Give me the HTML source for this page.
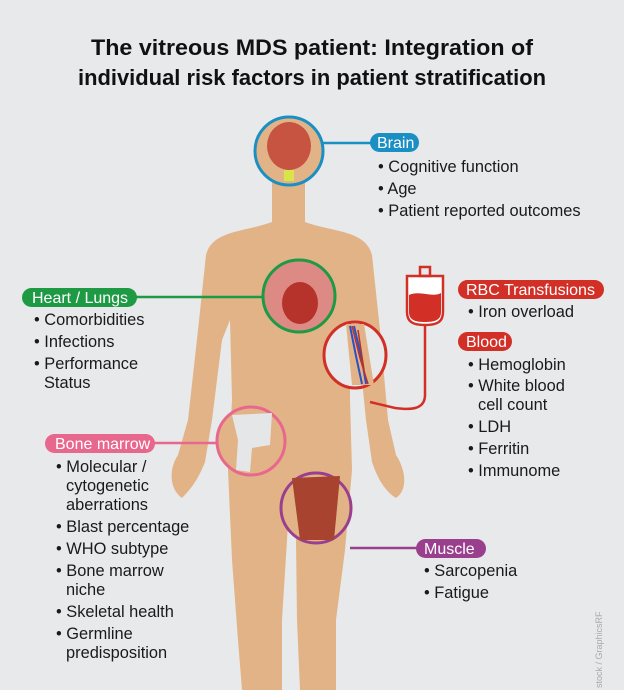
<!DOCTYPE html>
<html><head><meta charset="utf-8"><style>
html,body{margin:0;padding:0;background:#e8e9eb}
svg{display:block}
text{font-family:"Liberation Sans",Arial,sans-serif}
.t{font-size:16.4px;fill:#1a1a1a}
.p{font-size:16px;fill:#fff}
</style></head><body>
<svg width="624" height="690" viewBox="0 0 624 690">
<rect width="624" height="690" fill="#e8e9eb"/>
<text x="312" y="55" text-anchor="middle" font-size="22" font-weight="bold" textLength="442" lengthAdjust="spacingAndGlyphs" fill="#111">The vitreous MDS patient: Integration of</text>
<text x="312" y="85" text-anchor="middle" font-size="22" font-weight="bold" textLength="468" lengthAdjust="spacingAndGlyphs" fill="#111">individual risk factors in patient stratification</text>

<!-- body -->
<g fill="#e2b386">
<ellipse cx="288" cy="152" rx="26" ry="34"/>
<rect x="272" y="175" width="33" height="60"/>
<path d="M272 222 C245 232 212 230 206 255 L198 330 L188 420 L178 455 C168 470 170 490 182 498 C190 490 198 480 205 462 L212 420 L222 340 L230 320 L232 400 L228 470 L232 560 L238 640 L242 690 L282 690 L282 620 L287 540 L290 490 L296 540 L297 620 L300 690 L336 690 L336 620 L345 550 L352 470 L350 400 L350 320 L358 340 L366 420 L372 462 C378 480 386 492 396 498 C408 490 406 470 396 455 L388 420 L380 330 L372 255 C366 230 332 232 305 222 Z"/>
</g>

<!-- brain -->
<circle cx="289" cy="151" r="34" fill="#e2b386" stroke="#1a8fc4" stroke-width="3"/>
<ellipse cx="289" cy="146" rx="22" ry="24" fill="#c65440"/>
<rect x="284" y="170" width="10" height="11" fill="#d9e34a"/>
<line x1="323" y1="143" x2="372" y2="143" stroke="#1a8fc4" stroke-width="2.5"/>
<rect x="370" y="133" width="49" height="19" rx="9.5" fill="#1a8fc4"/>
<text class="p" x="377" y="148">Brain</text>
<text class="t" x="378" y="172">• Cognitive function</text>
<text class="t" x="378" y="194">• Age</text>
<text class="t" x="378" y="216">• Patient reported outcomes</text>

<!-- heart -->
<circle cx="299" cy="296" r="36" fill="#dd8a84" stroke="#1e9a45" stroke-width="3"/>
<ellipse cx="300" cy="303" rx="18" ry="21" fill="#b5332a"/>
<line x1="135" y1="297" x2="263" y2="297" stroke="#1e9a45" stroke-width="2.5"/>
<rect x="22" y="288" width="115" height="19" rx="9.5" fill="#1e9a45"/>
<text class="p" x="32" y="303">Heart / Lungs</text>
<text class="t" x="34" y="325">• Comorbidities</text>
<text class="t" x="34" y="347">• Infections</text>
<text class="t" x="34" y="369">• Performance</text>
<text class="t" x="44" y="388">Status</text>

<!-- blood / arm -->
<path d="M425 322 L425 395 C425 410 410 410 395 408 L370 402" fill="none" stroke="#d22f27" stroke-width="2.5"/>
<path d="M407 276 L443 276 L443 312 C443 322 437 325 425 325 C413 325 407 322 407 312 Z" fill="#fff" stroke="#d22f27" stroke-width="2.5"/>
<path d="M409 295 C420 290 432 298 441 293 L441 312 C441 320 435 322 425 322 C415 322 409 320 409 312 Z" fill="#d22f27"/>
<rect x="420" y="267" width="10" height="9" fill="none" stroke="#d22f27" stroke-width="2.5"/>
<ellipse cx="355" cy="355" rx="31" ry="33" fill="#e8e9eb" stroke="#d22f27" stroke-width="3"/>
<path d="M346 324 L364 324 L374 385 L352 385 Z" fill="#e2b386"/>
<path d="M350 326 L356 356 L362 384 M354 326 L362 360 L366 384" stroke="#2c50c8" stroke-width="2" fill="none"/>
<path d="M352 326 L360 358 L368 384 M358 330 L364 370" stroke="#b5332a" stroke-width="1.5" fill="none"/>
<rect x="458" y="280" width="146" height="19" rx="9.5" fill="#d22f27"/>
<text class="p" x="466" y="295">RBC Transfusions</text>
<text class="t" x="468" y="317">• Iron overload</text>
<rect x="458" y="332" width="54" height="19" rx="9.5" fill="#d22f27"/>
<text class="p" x="466" y="347">Blood</text>
<text class="t" x="468" y="370">• Hemoglobin</text>
<text class="t" x="468" y="391">• White blood</text>
<text class="t" x="478" y="410">cell count</text>
<text class="t" x="468" y="432">• LDH</text>
<text class="t" x="468" y="454">• Ferritin</text>
<text class="t" x="468" y="476">• Immunome</text>

<!-- bone marrow -->
<circle cx="251" cy="441" r="34" fill="#e2b386" stroke="#e8678c" stroke-width="3"/>
<path d="M232 415 L272 413 L270 445 L252 448 L250 472 L236 470 L238 440 Z" fill="#e4e6e8"/>
<line x1="153" y1="443" x2="218" y2="443" stroke="#e8678c" stroke-width="2.5"/>
<rect x="45" y="434" width="110" height="19" rx="9.5" fill="#e8678c"/>
<text class="p" x="55" y="449">Bone marrow</text>
<text class="t" x="56" y="472">• Molecular /</text>
<text class="t" x="66" y="491">cytogenetic</text>
<text class="t" x="66" y="510">aberrations</text>
<text class="t" x="56" y="532">• Blast percentage</text>
<text class="t" x="56" y="554">• WHO subtype</text>
<text class="t" x="56" y="576">• Bone marrow</text>
<text class="t" x="66" y="595">niche</text>
<text class="t" x="56" y="617">• Skeletal health</text>
<text class="t" x="56" y="639">• Germline</text>
<text class="t" x="66" y="658">predisposition</text>

<!-- muscle -->
<circle cx="316" cy="508" r="35" fill="#e2b386" stroke="#9a3f8e" stroke-width="3"/>
<path d="M292 478 L340 476 L334 540 L300 540 Z" fill="#a8432f"/>
<line x1="350" y1="548" x2="418" y2="548" stroke="#9a3f8e" stroke-width="2.5"/>
<rect x="416" y="539" width="70" height="19" rx="9.5" fill="#9a3f8e"/>
<text class="p" x="424" y="554">Muscle</text>
<text class="t" x="424" y="576">• Sarcopenia</text>
<text class="t" x="424" y="598">• Fatigue</text>

<text x="602" y="688" font-size="9" fill="#aaa" transform="rotate(-90 602 688)">stock / GraphicsRF</text>
</svg>
</body></html>
